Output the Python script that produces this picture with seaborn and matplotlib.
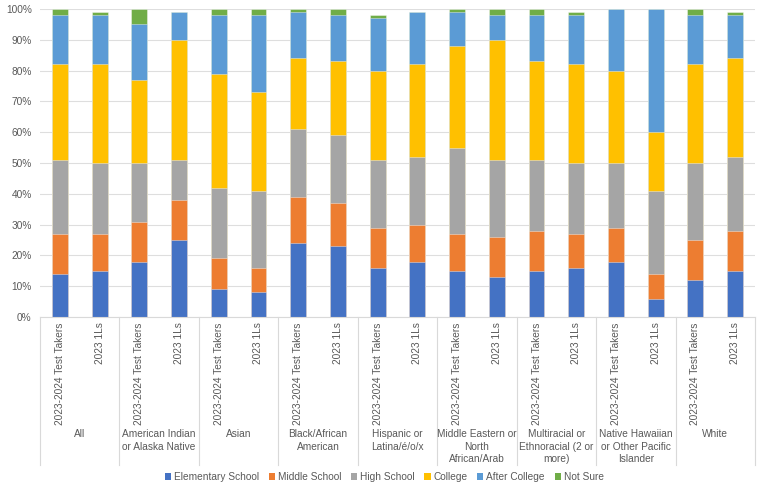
import numpy as np
import matplotlib.pyplot as plt
import pandas as pd
import seaborn as sns
from matplotlib.patches import Patch
from matplotlib.transforms import blended_transform_factory

# data (percent of respondents per bar)
groups = ["All", "American Indian\nor Alaska Native", "Asian", "Black/African\nAmerican",
          "Hispanic or\nLatina/é/o/x", "Middle Eastern or\nNorth\nAfrican/Arab",
          "Multiracial or\nEthnoracial (2 or\nmore)", "Native Hawaiian\nor Other Pacific\nIslander",
          "White"]
cohorts = ["2023-2024 Test Takers", "2023 1Ls"]
levels = ["Elementary School", "Middle School", "High School", "College", "After College", "Not Sure"]

elementary = [14, 15, 18, 25, 9, 8, 24, 23, 16, 18, 15, 13, 15, 16, 18, 6, 12, 15]
middle = [13, 12, 13, 13, 10, 8, 15, 14, 13, 12, 12, 13, 13, 11, 11, 8, 13, 13]
high = [24, 23, 19, 13, 23, 25, 22, 22, 22, 22, 28, 25, 23, 23, 21, 27, 25, 24]
college = [31, 32, 27, 39, 37, 32, 23, 24, 29, 30, 33, 39, 32, 32, 30, 19, 32, 32]
after = [16, 16, 18, 9, 19, 25, 15, 15, 17, 17, 11, 8, 15, 16, 20, 40, 16, 14]
not_sure = [2, 1, 5, 0, 2, 2, 1, 2, 1, 0, 1, 2, 2, 1, 0, 0, 2, 1]

colors = ["#4472C4", "#ED7D31", "#A5A5A5", "#FFC000", "#5B9BD5", "#70AD47"]

series = [elementary, middle, high, college, after, not_sure]
bar_ids = [f"{g}|{c}" for g in groups for c in cohorts]

df = pd.DataFrame({lvl: vals for lvl, vals in zip(levels, series)})
df["bar"] = bar_ids
cum = df[levels].cumsum(axis=1)
cum["bar"] = bar_ids

plt.rcParams["font.family"] = ["Liberation Sans", "DejaVu Sans"]
plt.rcParams["font.size"] = 7.3

fig = plt.figure(figsize=(7.64, 4.90), dpi=100)
ax = fig.add_axes([40 / 764, 1 - 317 / 490, 715 / 764, 308 / 490])

# stacked bars: draw cumulative totals from the top layer down
for lvl, col in reversed(list(zip(levels, colors))):
    sns.barplot(data=cum, x="bar", y=lvl, order=bar_ids, color=col, width=0.4,
                saturation=1, ax=ax, zorder=2, edgecolor=(1, 1, 1, 0.45), linewidth=0.6)

ax.set_ylim(0, 100)
ax.set_yticks(np.arange(0, 101, 10))
ax.set_yticklabels([f"{v}%" for v in range(0, 101, 10)], color="#595959")
ax.set_xticks(range(len(bar_ids)))
ax.set_xticklabels([c for g in groups for c in cohorts], rotation=90, color="#595959")
ax.tick_params(axis="both", length=0)
ax.tick_params(axis="x", pad=4)
ax.tick_params(axis="y", pad=6)
ax.set_xlabel("")
ax.set_ylabel("")
ax.grid(axis="y", color="#DEDEDE", linewidth=0.8, zorder=0)
ax.set_axisbelow(True)
for s in ["top", "right", "left"]:
    ax.spines[s].set_visible(False)
ax.spines["bottom"].set_color("#D9D9D9")
ax.set_xlim(-0.5, len(bar_ids) - 0.5)

# group labels and separators under the axis
trans = blended_transform_factory(ax.transData, ax.transAxes)
for i, g in enumerate(groups):
    ax.text(2 * i + 0.5, -0.365, g, transform=trans, ha="center", va="top",
            color="#595959", linespacing=1.3)
for k in range(len(groups) + 1):
    ax.plot([2 * k - 0.5, 2 * k - 0.5], [0, -0.48], transform=trans, color="#D9D9D9",
            linewidth=0.8, clip_on=False)

handles = [Patch(facecolor=c, label=l) for l, c in zip(levels, colors)]
leg = fig.legend(handles=handles, loc="center", bbox_to_anchor=(0.503, 1 - 477 / 490), ncol=6,
                 frameon=False, handlelength=0.6, handleheight=0.6, handletextpad=0.3,
                 columnspacing=0.95)
for t in leg.get_texts():
    t.set_color("#595959")

fig.savefig("out.png", dpi=100)
